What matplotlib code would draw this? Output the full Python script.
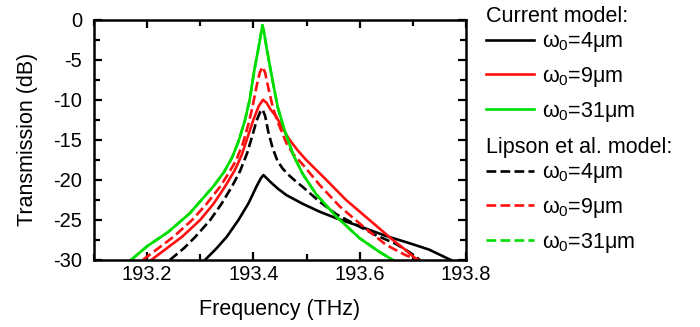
import matplotlib
matplotlib.use("Agg")
import matplotlib.pyplot as plt
from matplotlib.lines import Line2D
from matplotlib.ticker import MultipleLocator

### DATA ###

# current model, w0 = 4 um
f_cur4 = [193.309, 193.330, 193.350, 193.372, 193.391, 193.406, 193.414, 193.419,
          193.425, 193.431, 193.446, 193.462, 193.493, 193.524, 193.556, 193.600,
          193.649, 193.693, 193.730, 193.771]
t_cur4 = [-30.0, -28.6, -27.1, -25.0, -22.9, -20.8, -19.8, -19.4,
          -19.8, -20.2, -21.1, -21.9, -23.0, -23.96, -24.8, -25.8,
          -27.0, -27.9, -28.7, -30.0]

# current model, w0 = 9 um
f_cur9 = [193.208, 193.240, 193.266, 193.300, 193.325, 193.347, 193.365, 193.378,
          193.390, 193.400, 193.410, 193.418, 193.425, 193.432, 193.443, 193.455,
          193.468, 193.483, 193.499, 193.537, 193.574, 193.618, 193.662, 193.685,
          193.708]
t_cur9 = [-30.0, -28.4, -27.1, -25.0, -23.0, -20.8, -18.8, -16.9,
          -14.5, -12.5, -10.8, -10.0, -10.4, -11.2, -12.1, -13.6,
          -15.0, -16.3, -17.5, -20.0, -22.5, -25.0, -27.5, -28.7,
          -30.0]

# current model, w0 = 31 um
f_cur31 = [193.170, 193.200, 193.240, 193.280, 193.325, 193.345, 193.360, 193.372,
           193.384, 193.393, 193.402, 193.410, 193.417, 193.420, 193.425, 193.431,
           193.438, 193.446, 193.459, 193.475, 193.493, 193.518, 193.556, 193.600,
           193.637, 193.662]
t_cur31 = [-30.0, -28.3, -26.5, -24.2, -20.8, -19.0, -17.2, -15.2,
           -12.6, -10.0, -6.2, -3.4, -0.7, -1.6, -3.6, -5.8,
           -8.3, -11.0, -13.9, -16.9, -19.3, -21.8, -24.6, -27.3,
           -29.0, -30.0]

# Lipson et al. model, w0 = 4 um
f_lip4 = [193.243, 193.270, 193.291, 193.319, 193.340, 193.360, 193.375, 193.388,
          193.398, 193.406, 193.413, 193.417, 193.422, 193.428, 193.436, 193.445,
          193.455, 193.468, 193.480, 193.493, 193.524, 193.556, 193.587, 193.630,
          193.668, 193.695, 193.713]
t_lip4 = [-30.0, -28.5, -27.1, -25.0, -23.0, -20.8, -18.9, -16.7,
          -14.5, -12.6, -11.5, -11.2, -12.0, -14.0, -16.0, -17.6,
          -18.6, -19.5, -20.2, -20.9, -22.7, -24.3, -25.4, -26.9,
          -28.0, -29.1, -30.0]

# Lipson et al. model, w0 = 9 um
f_lip9 = [193.192, 193.220, 193.250, 193.285, 193.312, 193.338, 193.355, 193.368,
          193.380, 193.390, 193.398, 193.406, 193.412, 193.417, 193.422, 193.428,
          193.436, 193.444, 193.462, 193.475, 193.493, 193.524, 193.562, 193.606,
          193.649, 193.686, 193.712]
t_lip9 = [-30.0, -28.6, -27.1, -25.0, -23.0, -20.8, -19.0, -17.5,
          -15.5, -13.2, -11.0, -8.3, -6.6, -5.9, -6.6, -8.5,
          -10.8, -12.5, -15.4, -16.8, -18.1, -20.6, -23.3, -25.8,
          -28.1, -29.4, -30.0]

# Lipson et al. model, w0 = 31 um (lies under the current-model curve)
f_lip31 = list(f_cur31)
t_lip31 = list(t_cur31)

labels = [r"$\mathregular{ω_0}$=4$\mathregular{μ}$m",
          r"$\mathregular{ω_0}$=9$\mathregular{μ}$m",
          r"$\mathregular{ω_0}$=31$\mathregular{μ}$m"]

### PLOT ###

plt.rcParams['font.family'] = ['Liberation Sans', 'DejaVu Sans']
plt.rcParams['mathtext.fontset'] = 'custom'
plt.rcParams['mathtext.rm'] = 'Liberation Sans'
plt.rcParams['mathtext.it'] = 'Liberation Sans:italic'
plt.rcParams['axes.unicode_minus'] = False
plt.rcParams['font.size'] = 15.5

GREEN = '#00dd00'
RED = '#ff1010'
LW = 1.9

fig = plt.figure(figsize=(7, 3.27), dpi=100)
ax = fig.add_axes([0.134, 0.205, 0.532, 0.735])

ax.plot(f_cur4, t_cur4, color='black', lw=LW)
ax.plot(f_lip4, t_lip4, color='black', lw=LW, ls='--')
ax.plot(f_lip9, t_lip9, color=RED, lw=LW, ls='--')
ax.plot(f_cur9, t_cur9, color=RED, lw=LW)
ax.plot(f_lip31, t_lip31, color=GREEN, lw=LW, ls='--')
ax.plot(f_cur31, t_cur31, color=GREEN, lw=LW)

ax.set_xlim(193.1, 193.8)
ax.set_ylim(-30, 0)
ax.set_xticks([193.2, 193.4, 193.6, 193.8])
ax.xaxis.set_minor_locator(MultipleLocator(0.1))
ax.yaxis.set_major_locator(MultipleLocator(5))
ax.yaxis.set_minor_locator(MultipleLocator(2.5))
ax.tick_params(which='both', direction='in', top=True, right=True, width=1.6,
               labelsize=14.5)
ax.tick_params(which='major', length=6)
ax.tick_params(which='minor', length=4)
ax.tick_params(axis='x', pad=3.5)
ax.tick_params(axis='y', pad=8.5)
for s in ax.spines.values():
    s.set_linewidth(1.8)

ax.set_xlabel("Frequency (THz)", labelpad=11)
ax.set_ylabel("Transmission (dB)", labelpad=11)

cur = [Line2D([], [], color=c, lw=LW) for c in ['black', RED, GREEN]]
lip = [Line2D([], [], color=c, lw=LW, ls='--') for c in ['black', RED, GREEN]]

opts = dict(frameon=False, handlelength=2.2, handletextpad=0.37,
            labelspacing=0.5, borderpad=0, borderaxespad=0, fontsize=15.5,
            loc='upper left')
leg1 = ax.legend(cur, labels, bbox_to_anchor=(1.054, 0.956), **opts)
ax.add_artist(leg1)
ax.legend(lip, labels, bbox_to_anchor=(1.054, 0.4116), **opts)

ax.text(1.054, 0.9896, "Current model:", transform=ax.transAxes,
        ha='left', va='baseline', fontsize=15.5)
ax.text(1.054, 0.446, "Lipson et al. model:", transform=ax.transAxes,
        ha='left', va='baseline', fontsize=15.5)

fig.savefig("out.png", dpi=100)
